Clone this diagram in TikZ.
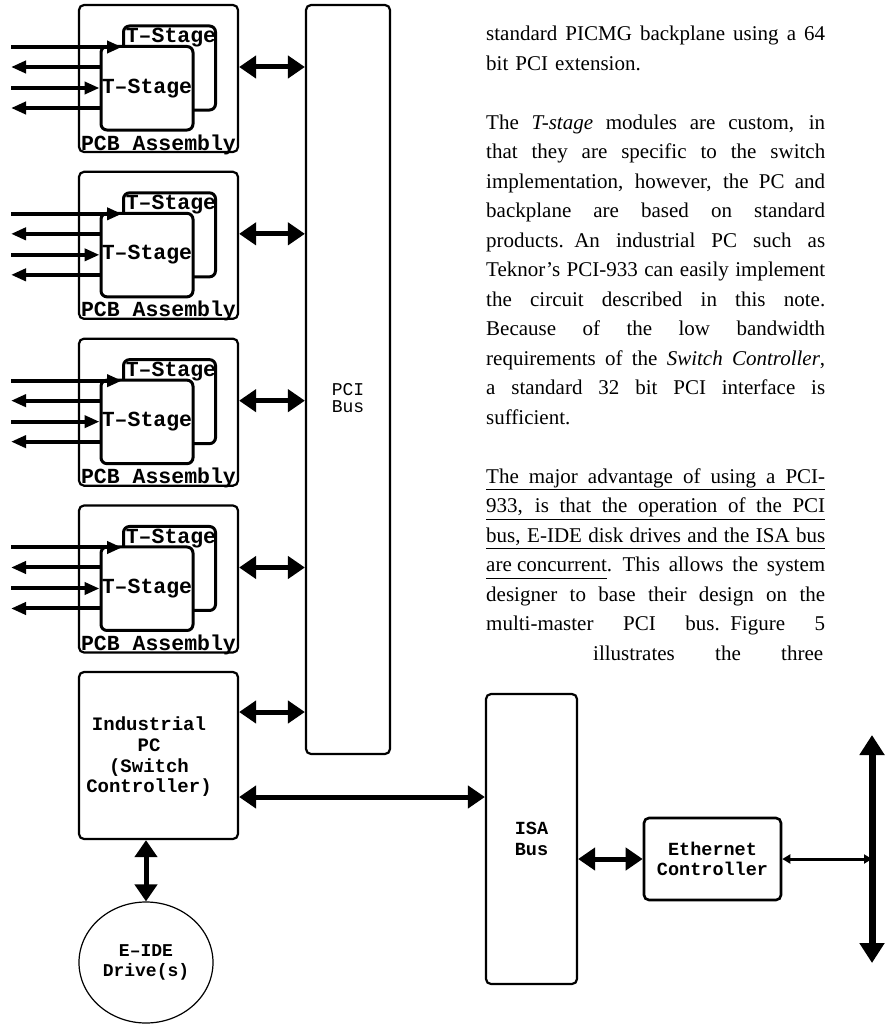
\documentclass[tikz,border=0pt]{standalone}
\usepackage{fontspec}
\setmainfont{Liberation Serif}
\setmonofont{Liberation Mono}
\usepackage{tikz}
\usetikzlibrary{shapes.geometric, arrows.meta, positioning}

\newcommand{\fillline}[1]{\leavevmode\hbox to\linewidth{\spaceskip=\fontdimen2\font plus 1fil minus \fontdimen4\font #1}}
\newcommand{\ulline}[1]{\underline{\fillline{#1}\vphantom{g}}}

\begin{document}
\begin{tikzpicture}[x=1pt, y=-1pt,
    block/.style={rectangle, draw, line width=2.2pt, rounded corners=5pt, inner sep=0pt, align=center, font=\ttfamily\bfseries\fontsize{18.5}{20.5}\selectfont},
    stage/.style={rectangle, draw, line width=3pt, rounded corners=6pt, fill=white, inner sep=0pt, minimum width=92pt, minimum height=84pt, font=\ttfamily\bfseries\fontsize{21.5}{22}\selectfont},
    tag/.style={inner sep=0pt, font=\ttfamily\bfseries\fontsize{21.5}{22}\selectfont},
    link/.style={line width=4pt, -{Triangle[length=15pt,width=12pt]}},
    bus/.style={line width=5pt, {Triangle[length=17pt,width=22pt]}-{Triangle[length=17pt,width=22pt]}},
    tap/.style={line width=3pt, {Triangle[length=8pt,width=9pt]}-{Triangle[length=8pt,width=9pt]}},
    lan/.style={line width=7pt, {Triangle[length=20pt,width=24pt]}-{Triangle[length=20pt,width=24pt]}}
  ]
    \useasboundingbox (0,0) rectangle (890,1025);

    % Nodes
    \node (pci) [block, minimum width=84pt, minimum height=749pt] at (348,379.5) {};
    \node (pcilbl) [inner sep=0pt, align=center, font=\ttfamily\fontsize{18}{17}\selectfont] at (348,398) {PCI\\Bus};

    \foreach \i in {0,...,3} {
      \pgfmathsetmacro{\py}{5+166.83*\i}
      \node (pcb\i) [block, minimum width=159pt, minimum height=147pt] at (158.5,\py+73.5) {};
      \node (pcblbl\i) [tag, anchor=base] at ([yshift=3pt]pcb\i.south) {PCB Assembly};
      \node (tsb\i) [stage] at (169.5,\py+63) {};
      \node (tsblbl\i) [tag, anchor=base] at (171,\py+38) {T–Stage};
      \node (tsf\i) [stage, minimum height=83.5pt] at (147,\py+83.25) {T–Stage};
      \coordinate (ina\i) at (11,\py+42);
      \coordinate (outa\i) at (11,\py+62);
      \coordinate (inb\i) at (11,\py+83);
      \coordinate (outb\i) at (11,\py+103);
      % Connections
      \draw [link] (ina\i) -- (ina\i -| tsb\i.west);
      \draw [link] (outa\i -| tsf\i.west) -- (outa\i);
      \draw [link] (inb\i) -- (inb\i -| tsf\i.west);
      \draw [link] (outb\i -| tsf\i.west) -- (outb\i);
      \draw [bus] ([yshift=11.5pt]pcb\i.east) -- ([yshift=11.5pt]pcb\i.east -| pci.west);
    }

    \node (pc) [block, minimum width=159pt, minimum height=167pt] at (158.5,755.5) {};
    \node (pclbl) [inner sep=0pt, align=center, font=\ttfamily\bfseries\fontsize{19}{20.7}\selectfont] at (149,757) {Industrial\\PC\\(Switch\\Controller)};
    \node (isa) [block, minimum width=91pt, minimum height=290pt] at (531.5,839) {ISA\\Bus};
    \node (eth) [block, line width=2.6pt, minimum width=137pt, minimum height=82pt] at (712.5,859) {Ethernet\\Controller};
    \node (drive) [ellipse, draw, line width=1.2pt, inner sep=0pt, minimum width=134pt, minimum height=121pt, align=center, font=\ttfamily\bfseries\fontsize{18}{20}\selectfont] at (146,962.5) {E–IDE\\Drive(s)};
    \coordinate (lantop) at (872,735);
    \coordinate (lanbot) at (872,963);

    \node (note) [anchor=base west, text width=339pt, inner sep=0pt, font=\rmfamily\fontsize{21}{29.5}\selectfont] at (486,41) {%
      \fillline{standard PICMG backplane using a 64}\\
      bit PCI extension.\\[29.5pt]
      \fillline{The \textit{T-stage} modules are custom, in}\\
      \fillline{that they are specific to the switch}\\
      \fillline{implementation, however, the PC and}\\
      \fillline{backplane are based on standard}\\
      \fillline{products. An industrial PC such as}\\
      \fillline{Teknor's PCI-933 can easily implement}\\
      \fillline{the circuit described in this note.}\\
      \fillline{Because of the low bandwidth}\\
      \fillline{requirements of the \textit{Switch Controller},}\\
      \fillline{a standard 32 bit PCI interface is}\\
      sufficient.\\[29.5pt]
      \ulline{The major advantage of using a PCI-}\\
      \ulline{933, is that the operation of the PCI}\\
      \ulline{bus, E-IDE disk drives and the ISA bus}\\
      \fillline{\underline{are concurrent\vphantom{g}}. This allows the system}\\
      \fillline{designer to base their design on the}\\
      \fillline{multi-master PCI bus. Figure 5}\\
      \hspace*{107pt}\hbox to 230pt{\spaceskip=\fontdimen2\font plus 1fil illustrates the three}};

    % Connections
    \draw [bus] ([yshift=43.5pt]pc.east) -- ([yshift=43.5pt]pc.east -| pci.west);
    \draw [bus] ([yshift=-41.5pt]pc.east) -- ([yshift=-41.5pt]pc.east -| isa.west);
    \draw [bus] (pc.south -| drive.north) -- (drive.north);
    \draw [bus] (eth.west -| isa.east) -- (eth.west);
    \draw [tap] (eth.east) -- (eth.east -| lantop);
    \draw [lan] (lantop) -- (lanbot);

  \end{tikzpicture}
\end{document}
